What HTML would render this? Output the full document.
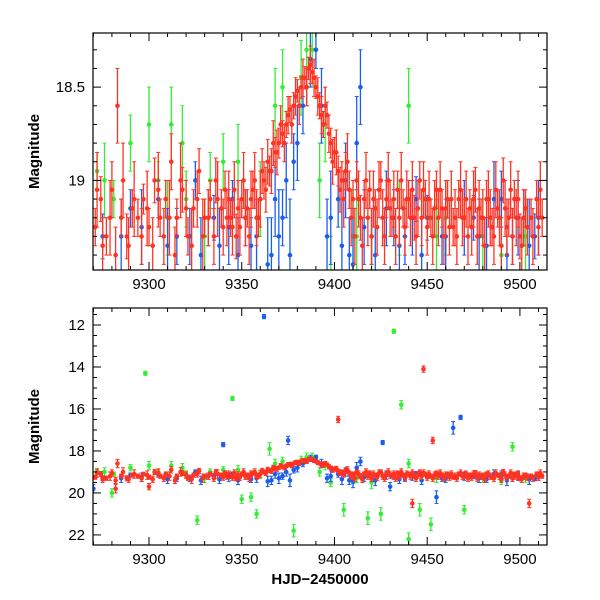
<!DOCTYPE html>
<html><head><meta charset="utf-8"><style>
html,body{margin:0;padding:0;background:#fff;overflow:hidden;width:600px;height:600px;}
svg{display:block;}
svg text{font-family:"Liberation Sans",sans-serif;}
</style></head><body>
<svg id="chart" width="600" height="600" xmlns="http://www.w3.org/2000/svg"></svg>
<script>
const redX=[9268,9271,9274,9277,9280,9283,9285,9288,9291,9294,9297,9300,9303,9306,9309,9312,9315,9318,9321,9324,9327,9330,9333,9336,9339,9341,9344,9347,9350,9353,9356,9359,9362,9365,9368,9370,9372,9374,9376,9378,9380,9382,9384,9386,9388,9390,9392,9394,9396,9398,9400,9402,9404,9406,9408,9410,9412,9414,9416,9419,9422,9425,9428,9431,9434,9437,9440,9443,9446,9449,9452,9455,9458,9461,9464,9467,9470,9473,9476,9479,9482,9485,9488,9491,9494,9497,9500,9503,9506,9509,9512,9448,9453,9402,9282,9442,9505,9300,
9269,9272,9275,9279,9282,9286,9289,9292,9296,9299,9302,9305,9308,9311,9314,9317,9320,9323,9326,9329,9332,9335,9337,9340,9342,9343,9345,9346,9348,9349,9351,9352,9354,9355,9357,9358,9360,9361,9363,9364,9366,9367,9369,9371,9373,9375,9377,9379,9381,9383,9385,9387,9389,9391,9393,9395,9397,9399,9401,9403,9405,9407,9409,9411,9413,9415,9417,9418,9420,9421,9423,9424,9426,9427,9429,9430,9432,9433,9435,9436,9438,9439,9441,9442,9444,9445,9447,9448,9450,9451,9453,9454,9456,9457,9459,9460,9462,9463,9465,9466,9468,9469,9471,9472,9474,9475,9477,9478,9480,9481,9483,9484,9486,9487,9489,9490,9492,9493,9495,9496,9498,9499,9501,9502,9504,9507,9510,9511];
const redM=[19.15,19.25,19.1,19.3,19.05,18.6,19.2,19.3,19.15,19.2,19.1,19.25,19.0,19.2,19.1,18.9,19.2,19.05,19.3,19.15,18.95,19.2,19.1,19.0,19.15,19.05,19.2,19.3,19.1,19.15,19.05,19.2,19.0,18.95,18.85,18.8,18.75,18.7,18.62,18.6,18.52,18.5,18.45,18.4,18.42,18.5,18.6,18.7,18.65,18.8,18.85,18.95,19.0,18.95,19.05,19.1,19.0,19.2,19.1,19.05,19.15,19.0,19.1,19.2,19.05,19.15,19.1,19.2,19.0,19.1,19.2,19.05,19.15,19.1,19.25,19.1,19.2,19.15,19.05,19.2,19.1,19.25,19.15,19.0,19.2,19.1,19.3,19.15,19.2,19.1,19.2,14.1,17.5,16.5,19.8,20.5,20.5,19.7,
19.3,19.05,19.35,19.2,19.4,19.0,19.35,19.1,19.3,19.15,19.35,19.05,19.3,19.2,19.4,19.0,19.15,19.35,19.1,19.3,19.2,19.3,19.1,19.25,19.2,19.1,19.25,19.05,19.15,19.25,19.0,19.2,19.3,19.1,19.0,19.2,19.1,18.95,19.05,18.9,18.95,18.8,18.85,18.7,18.8,18.65,18.7,18.55,18.6,18.45,18.5,18.38,18.45,18.55,18.65,18.6,18.75,18.9,18.85,19.05,19.1,18.9,19.2,19.3,19.1,19.35,19.0,19.2,19.3,19.1,19.25,19.05,19.2,19.3,19.0,19.15,19.1,19.3,19.2,19.0,19.25,19.1,19.2,19.05,19.3,19.15,19.2,19.05,19.25,19.1,19.3,19.15,19.2,19.05,19.3,19.15,19.25,19.1,19.2,19.3,19.05,19.2,19.1,19.3,19.25,19.1,19.3,19.15,19.2,19.35,19.1,19.2,19.3,19.05,19.2,19.35,19.15,19.25,19.05,19.3,19.2,19.1,19.35,19.2,19.25,19.3,19.25,19.05];
const redE=[.08,.1,.12,.1,.15,.2,.1,.12,.1,.1,.08,.1,.12,.1,.1,.15,.1,.12,.1,.1,.12,.1,.1,.12,.1,.1,.1,.12,.1,.1,.1,.1,.1,.08,.08,.08,.07,.07,.07,.07,.06,.06,.06,.06,.06,.06,.07,.07,.07,.08,.08,.08,.1,.1,.1,.1,.1,.12,.1,.1,.1,.1,.1,.1,.1,.1,.1,.12,.1,.1,.1,.1,.1,.1,.1,.1,.1,.1,.12,.1,.1,.1,.1,.12,.1,.1,.12,.1,.1,.1,.1,.15,.15,.15,.2,.2,.2,.15,
.15,.2,.15,.2,.15,.2,.15,.2,.15,.2,.15,.2,.15,.2,.15,.2,.15,.2,.15,.2,.15,.15,.2,.15,.15,.15,.15,.15,.15,.15,.15,.15,.15,.15,.15,.15,.15,.12,.12,.12,.12,.12,.12,.1,.1,.1,.1,.1,.1,.1,.1,.1,.1,.1,.1,.1,.1,.12,.12,.12,.15,.15,.15,.15,.15,.15,.15,.15,.15,.15,.15,.15,.15,.15,.15,.15,.15,.15,.15,.15,.15,.15,.15,.15,.15,.15,.15,.15,.15,.15,.15,.15,.15,.15,.15,.15,.15,.15,.15,.15,.15,.15,.15,.15,.15,.15,.15,.15,.15,.15,.15,.15,.15,.15,.15,.15,.15,.15,.15,.15,.15,.15,.15,.15,.15,.15,.15,.15,.15,.15];
const blueX=[9268,9275,9290,9305,9315,9325,9335,9345,9355,9362,9366,9372,9378,9385,9390,9396,9402,9408,9414,9420,9426,9432,9438,9444,9450,9458,9464,9468,9475,9482,9490,9496,9502,9508,9340,9375,9270,9455,9430,
9322,9328,9332,9338,9343,9348,9352,9358,9364,9368,9370,9374,9376,9380,9383,9387,9393,9398,9404,9406,9410,9412,9416,9422,9428,9435,9442,9447,9460,9470,9478,9486,9493,9499,9505,9510,9285,9296,9310];
const blueM=[19.2,19.3,19.15,19.1,19.3,19.0,19.2,19.1,19.35,11.6,19.4,19.2,18.9,18.5,18.3,19.3,19.1,19.4,18.5,19.3,17.6,19.2,19.3,19.1,19.2,19.3,16.9,16.4,19.2,19.35,19.1,19.3,19.2,19.3,17.7,17.5,19.8,20.2,19.7,
19.3,19.4,19.2,19.35,19.25,19.4,19.2,19.3,19.45,19.1,19.3,19.0,19.4,18.8,18.6,18.35,18.6,19.2,19.35,19.0,19.45,18.8,19.25,19.4,19.15,19.35,19.2,19.4,19.3,19.2,19.3,19.1,19.4,19.2,19.35,19.2,19.3,19.25,19.35];
const blueE=[.1,.12,.1,.1,.15,.1,.12,.1,.15,.1,.2,.15,.15,.1,.1,.2,.15,.2,.2,.15,.1,.15,.15,.12,.12,.15,.3,.1,.12,.15,.15,.15,.15,.12,.1,.2,.2,.3,.2,
.15,.2,.15,.2,.2,.2,.15,.2,.25,.2,.25,.2,.3,.2,.15,.15,.2,.25,.25,.2,.3,.25,.2,.25,.2,.2,.2,.2,.2,.2,.2,.2,.25,.2,.25,.2,.2,.2,.2];
const greenX=[9272,9281,9290,9298,9305,9312,9320,9326,9333,9340,9345,9350,9355,9358,9365,9372,9378,9385,9392,9398,9405,9412,9418,9425,9432,9436,9440,9446,9452,9460,9470,9480,9496,9503,9280,9440,
9276,9300,9310,9318,9330,9348,9360,9368,9382,9388,9395,9410,9420,9435,9455,9490];
const greenM=[18.95,19.1,18.8,14.3,19.0,18.7,19.1,21.3,19.0,18.9,15.5,20.3,20.2,21.0,17.9,18.5,21.8,18.3,19.0,19.5,20.8,19.3,21.2,21.0,12.3,15.8,22.2,20.8,21.5,19.2,20.8,19.3,17.8,19.3,20.0,18.6,
19.0,18.7,19.2,18.8,19.3,18.9,19.1,18.6,18.45,18.3,18.7,19.3,19.5,19.2,19.3,19.4];
const greenE=[.1,.1,.15,.1,.1,.2,.15,.2,.15,.15,.1,.2,.2,.2,.3,.2,.3,.2,.2,.2,.3,.2,.3,.3,.1,.2,.3,.3,.3,.2,.2,.2,.2,.2,.2,.2,
.2,.2,.2,.2,.2,.2,.2,.2,.2,.2,.2,.25,.3,.2,.2,.2];
const xTicks=[9300,9350,9400,9450,9500];
const topYTicks=[18.5,19];
const botYTicks=[12,14,16,18,20,22];

const NS="http://www.w3.org/2000/svg";
const svg=document.getElementById('chart');
function mk(t,a,p){const e=document.createElementNS(NS,t);for(const k in a)e.setAttribute(k,a[k]);(p||svg).appendChild(e);return e;}
const L=93,R=547,x0=9269.8,x1=9514.6;
const sx=v=>L+(v-x0)/(x1-x0)*(R-L);
const panels=[
 {name:'top',T:33,B:270,y0:18.21,y1:19.48,ticks:topYTicks,minor:0.1,lab:v=>String(v)},
 {name:'bottom',T:308,B:545,y0:11.19,y1:22.48,ticks:botYTicks,minor:0.5,lab:v=>String(v)}
];
const series=[['green','#33ee33',greenX,greenM,greenE],['blue','#1a5ef0',blueX,blueM,blueE],['red','#ff3322',redX,redM,redE]];
panels.forEach((p,pi)=>{
 const sy=v=>p.T+(v-p.y0)/(p.y1-p.y0)*(p.B-p.T);
 const defs=mk('defs',{});
 const cp=mk('clipPath',{id:'clip'+pi},defs);
 mk('rect',{x:L,y:p.T,width:R-L,height:p.B-p.T},cp);
 const g=mk('g',{'clip-path':'url(#clip'+pi+')'});
 
 
 series.forEach(s=>{
  const sg=mk('g',{},g);
  
  
  for(let i=0;i<s[2].length;i++){
   const X=sx(s[2][i]),Y=sy(s[3][i]),e1=sy(s[3][i]-s[4][i]),e2=sy(s[3][i]+s[4][i]);
   const l=mk('line',{x1:X,x2:X,y1:e1,y2:e2,stroke:s[1],'stroke-width':1.3},sg);
   
   
   mk('line',{x1:X-2,x2:X+2,y1:e1,y2:e1,stroke:s[1],'stroke-width':1},sg);
   mk('line',{x1:X-2,x2:X+2,y1:e2,y2:e2,stroke:s[1],'stroke-width':1},sg);
   const c=mk('circle',{cx:X,cy:Y,r:2.3,fill:s[1]},sg);
   
   
  }
 });
 const fr=mk('rect',{x:L,y:p.T,width:R-L,height:p.B-p.T,fill:'none',stroke:'#000','stroke-width':1.2});
 
 
 for(let v=9270;v<=9514;v+=10){const X=sx(v);const len=(v%50===0)?8:4;
  mk('line',{x1:X,x2:X,y1:p.B,y2:p.B-len,stroke:'#000'});mk('line',{x1:X,x2:X,y1:p.T,y2:p.T+len,stroke:'#000'});}
 xTicks.forEach(v=>{const t=mk('text',{x:sx(v),y:p.B+19,'text-anchor':'middle','font-size':15});t.textContent=v;
  });
 const start=Math.ceil(p.y0/p.minor)*p.minor;
 for(let v=start;v<=p.y1+1e-9;v+=p.minor){const Y=sy(v);const maj=p.ticks.some(t=>Math.abs(t-v)<1e-6);const len=maj?8:4;
  mk('line',{x1:L,x2:L+len,y1:Y,y2:Y,stroke:'#000'});mk('line',{x1:R,x2:R-len,y1:Y,y2:Y,stroke:'#000'});}
 p.ticks.forEach(v=>{const t=mk('text',{x:L-8,y:sy(v)+5,'text-anchor':'end','font-size':15});t.textContent=p.lab(v);
  });
 const yl=mk('text',{x:0,y:0,transform:`translate(39,${(p.T+p.B)/2}) rotate(-90)`,'text-anchor':'middle','font-size':15,'font-weight':'bold'});
 yl.textContent='Magnitude';
 
 
});
const xl=mk('text',{x:320,y:584,'text-anchor':'middle','font-size':15,'font-weight':'bold'});
xl.textContent='HJD\u22122450000';


</script>
</body></html>
